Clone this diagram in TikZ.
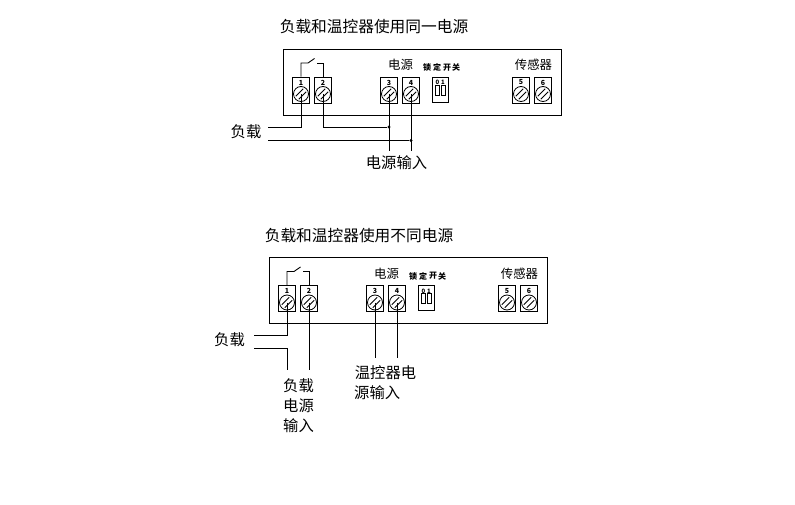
\documentclass[tikz,border=0pt]{standalone}
\usepackage{fontspec}
\setmainfont{Noto Sans CJK SC}
\newcommand{\fs}[1]{\fontsize{#1bp}{#1bp}\selectfont}
\tikzset{
  wire/.style={line width=0.9bp,black},
  panelbox/.style={draw,line width=0.9bp,minimum width=278bp,minimum height=66bp,inner sep=0pt},
  termbox/.style={draw,line width=0.8bp,minimum width=17bp,minimum height=26bp,inner sep=0pt},
  screw/.style={draw,circle,line width=0.8bp,minimum size=15bp,inner sep=0pt},
  dipbox/.style={draw,line width=0.8bp,minimum width=16bp,minimum height=25bp,inner sep=0pt},
  dipsw/.style={draw,line width=0.8bp,minimum width=4bp,minimum height=10bp,inner sep=0pt},
  dot/.style={circle,fill=black,minimum size=3.4bp,inner sep=0pt},
  txt/.style={inner sep=0pt,anchor=center,yshift=-1bp},
  title/.style={txt,font=\fs{15.7}},
  label/.style={txt,font=\fs{15.3}},
  small/.style={txt,font=\fs{12.4}},
  tiny/.style={txt,font=\fs{8}\bfseries},
  digit/.style={txt,font=\fs{7}\bfseries},
}
% terminal: prefix, number, centre x
\newcommand{\terminal}[3]{%
  \node[termbox] (#1t#2) at (#3,90) {};
  \node[digit] (#1n#2) at (#3,81.5) {#2};
  \node[screw] (#1s#2) at (#3,94) {};
  \draw[line width=0.9bp] ($(#1s#2.center)+(-5.2,2.2)$) -- ($(#1s#2.center)+(2.2,-5.2)$);
  \draw[line width=0.9bp] ($(#1s#2.center)+(-2.2,5.2)$) -- ($(#1s#2.center)+(5.2,-2.2)$);
}
% one panel, drawn in the coordinates of the upper one
\newcommand{\panel}[1]{%
  \node[panelbox] (#1box) at (422,82) {};
  \terminal{#1}{1}{301}
  \terminal{#1}{2}{323}
  \terminal{#1}{3}{389}
  \terminal{#1}{4}{411}
  \terminal{#1}{5}{521}
  \terminal{#1}{6}{543}
  \node[small] (#1pw) at (400.5,64) {电源};
  \node[tiny] (#1lk1) at (427,66.5) {锁};
  \node[tiny] (#1lk2) at (437,66.5) {定};
  \node[tiny] (#1lk3) at (447,66.5) {开};
  \node[tiny] (#1lk4) at (456,66.5) {关};
  \node[small] (#1se) at (533.5,64) {传感器};
  \node[dipbox] (#1dip) at (440,89.5) {};
  \node[digit,font=\fs{6}\bfseries] (#1d0) at (437.5,81.5) {0};
  \node[digit,font=\fs{6}\bfseries] (#1d1) at (443,81.5) {1};
  \node[dipsw] (#1sa) at (437.5,90) {};
  \node[dipsw] (#1sb) at (443.5,90) {};
  \coordinate (#1k1) at (301,63);
  \coordinate (#1k2) at (308,63);
  \coordinate (#1k3) at (314.5,58.5);
  \coordinate (#1k4) at (317,63);
  \coordinate (#1k5) at (323,63);
  \draw[wire] (#1t1.north) -- (#1k1) -- (#1k2) -- (#1k3);
  \draw[wire] (#1k4) -- (#1k5) -- (#1t2.north);
}
\usetikzlibrary{calc}
\begin{document}
\begin{tikzpicture}[x=1bp,y=-1bp]
\useasboundingbox (0,0) rectangle (795,505);
\fill[white] (0,0) rectangle (795,505);
% upper panel
\panel{a}
\node[title] (at) at (374,26) {负载和温控器使用同一电源};
\node[label] (al) at (246,131) {负载};
\node[label] (ai) at (396.5,162) {电源输入};
\coordinate (ae1) at (268,127);
\coordinate (ae2) at (268,140.5);
\coordinate (ae3) at (389,151);
\coordinate (ae4) at (411,151);
\node[dot] (aj1) at (389,127) {};
\node[dot] (aj2) at (411,140.5) {};
\draw[wire] (as1.center) |- (ae1);
\draw[wire] (as2.center) |- (aj1);
\draw[wire] (ae2) -- (aj2);
\draw[wire] (as3.center) -- (ae3);
\draw[wire] (as4.center) -- (ae4);
% lower panel
\begin{scope}[shift={(-14,208.5)}]
\panel{b}
\end{scope}
\node[title] (bt) at (359,235) {负载和温控器使用不同电源};
\node[label] (bl) at (229.5,339) {负载};
\node[label] (bi1) at (298.5,385) {负载};
\node[label] (bi2) at (298.5,405) {电源};
\node[label] (bi3) at (298.5,425) {输入};
\node[label] (bw1) at (385.5,372) {温控器电};
\node[label,anchor=west] (bw2) at (354,392) {源输入};
\coordinate (be1) at (254,335);
\coordinate (be2) at (254,348);
\coordinate (be3) at (287,370);
\coordinate (be4) at (309,370);
\coordinate (be5) at (375,358);
\coordinate (be6) at (397,358);
\draw[wire] (bs1.center) |- (be1);
\draw[wire] (be2) -| (be3);
\draw[wire] (bs2.center) -- (be4);
\draw[wire] (bs3.center) -- (be5);
\draw[wire] (bs4.center) -- (be6);
\end{tikzpicture}
\end{document}
